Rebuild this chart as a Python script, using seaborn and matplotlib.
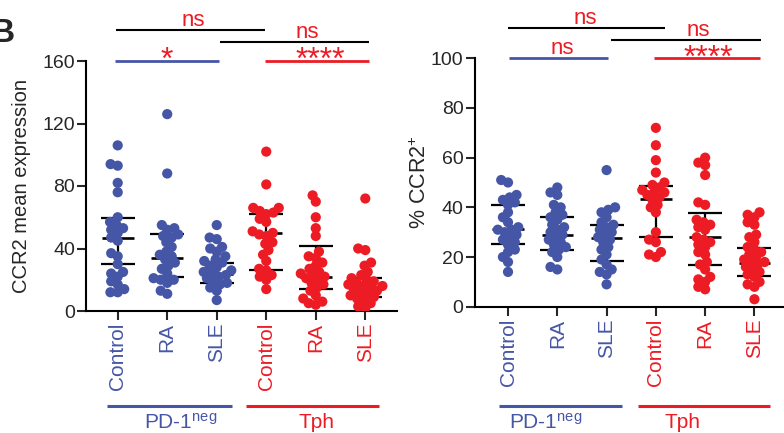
import numpy as np
import pandas as pd
import seaborn as sns
import matplotlib.pyplot as plt
from matplotlib.transforms import blended_transform_factory

BLUE = '#4656A6'
RED = '#ED1C24'

# categories
groups = ['PD-1neg Control', 'PD-1neg RA', 'PD-1neg SLE', 'Tph Control', 'Tph RA', 'Tph SLE']
tick_labels = ['Control', 'RA', 'SLE', 'Control', 'RA', 'SLE']
group_colors = [BLUE, BLUE, BLUE, RED, RED, RED]

# CCR2 mean expression (left panel)
mfi_pd1_ctrl = [106, 94, 93, 82, 76, 60, 57, 55, 53, 52, 50, 47, 45, 37, 35, 30, 25, 24, 22, 19, 17, 14, 12, 12]
mfi_pd1_ra = [126, 88, 55, 53, 52, 49, 48, 47, 44, 41, 38, 36, 35, 33, 31, 29, 27, 24, 21, 20, 20, 18, 13, 11]
mfi_pd1_sle = [55, 47, 46, 41, 40, 38, 35, 33, 32, 31, 29, 28, 26, 25, 24, 23, 22, 21, 19, 18, 17, 15, 13, 7]
mfi_tph_ctrl = [102, 81, 66, 66, 64, 63, 62, 59, 57, 51, 50, 49, 48, 44, 43, 39, 36, 32, 27, 26, 23, 22, 20, 14]
mfi_tph_ra = [74, 70, 60, 53, 48, 38, 35, 34, 31, 29, 27, 25, 24, 23, 22, 21, 20, 18, 17, 15, 13, 10, 8, 6, 5, 4]
mfi_tph_sle = [72, 40, 39, 31, 29, 25, 23, 21, 20, 19, 18, 17, 16, 16, 15, 14, 13, 12, 11, 10, 9, 8, 7, 5, 3, 2]
mfi_median = [47, 34, 24, 50, 22, 15.6]
mfi_q1 = [30, 21.5, 18, 26.5, 13.9, 9]
mfi_q3 = [59.5, 49, 31, 62, 41.5, 21]

# % CCR2+ (right panel)
pct_pd1_ctrl = [51, 50, 45, 44, 43, 42, 41, 38, 36, 34, 32, 31, 31, 30, 29, 28, 27, 26, 25, 23, 22, 20, 18, 14]
pct_pd1_ra = [48, 46, 45, 41, 40, 38, 37, 36, 35, 33, 32, 31, 30, 29, 28, 27, 26, 25, 24, 23, 22, 20, 16, 15]
pct_pd1_sle = [55, 40, 39, 38, 36, 34, 33, 32, 31, 30, 29, 28, 27, 26, 24, 23, 21, 19, 17, 15, 14, 13, 9]
pct_tph_ctrl = [72, 65, 59, 54, 50, 49, 48, 47, 46, 46, 45, 44, 43, 41, 40, 38, 30, 27, 26, 22, 21, 20]
pct_tph_ra = [60, 58, 57, 53, 42, 41, 35, 34, 33, 32, 31, 28, 27, 26, 25, 24, 22, 21, 18, 17, 15, 12, 11, 10, 8, 7]
pct_tph_sle = [38, 37, 36, 34, 33, 29, 28, 26, 24, 23, 22, 21, 20, 19, 18, 18, 17, 16, 15, 14, 13, 12, 10, 9, 8, 3]
pct_median = [31.3, 28.7, 27.6, 43.5, 27.9, 17.5]
pct_q1 = [25.1, 23, 18.5, 28, 16.8, 12.2]
pct_q3 = [41, 36, 33, 48.6, 37.8, 23.6]

# significance bars: x0, x1, y, colour, label, label x
sig_left = [(-0.03, 2.98, 180, 'black', 'ns', 1.52),
            (2.07, 5.08, 172, 'black', 'ns', 3.82),
            (-0.05, 2.05, 160, BLUE, '*', 1.0),
            (2.98, 5.08, 160, RED, '****', 4.09)]
sig_right = [(0.0, 3.19, 112.3, 'black', 'ns', 1.57),
             (2.08, 5.13, 107.4, 'black', 'ns', 3.87),
             (0.03, 2.03, 100, BLUE, 'ns', 1.11),
             (2.97, 5.12, 100, RED, '****', 4.07)]

sns.set_style('ticks')
plt.rcParams['font.family'] = ['Liberation Sans', 'DejaVu Sans']
plt.rcParams['mathtext.default'] = 'regular'

fig = plt.figure(figsize=(7.84, 4.33), dpi=100)
ax1 = fig.add_axes([86 / 784, 122 / 433, 311 / 784, 250 / 433])
ax2 = fig.add_axes([474.5 / 784, 126.3 / 433, 309.5 / 784, 248.4 / 433])


def draw_panel(ax, series, med, q1, q3):
    df = pd.concat([pd.DataFrame({'group': g, 'value': v}) for g, v in zip(groups, series)])
    sns.swarmplot(data=df, x='group', y='value', hue='group', order=groups, hue_order=groups,
                  palette=group_colors, size=5, linewidth=0, legend=False, ax=ax, zorder=3)
    x = np.arange(len(groups))
    med = np.array(med)
    # median + IQR sit behind the dots
    ax.errorbar(x, med, yerr=[med - np.array(q1), np.array(q3) - med], fmt='none',
                ecolor='black', elinewidth=1.6, capsize=12, capthick=1.6, zorder=1.5)
    ax.hlines(med, x - 0.32, x + 0.32, color='black', lw=1.9, zorder=1.5)


def style_panel(ax, ylim, yticks, xlim, sig, ylabel, label_x):
    ax.set_xlim(*xlim)
    ax.set_ylim(*ylim)
    ax.set_yticks(yticks)
    ax.set_xticks(range(len(groups)))
    ax.set_xticklabels(tick_labels, rotation=90, fontsize=15)
    for lab, c in zip(ax.get_xticklabels(), group_colors):
        lab.set_color(c)
    ax.tick_params(axis='y', labelsize=14, length=6.5, width=1.5, pad=1.5)
    ax.tick_params(axis='x', length=6.5, width=1.5, pad=2)
    for s in ['left', 'bottom']:
        ax.spines[s].set_linewidth(1.5)
        ax.spines[s].set_color('black')
    sns.despine(ax=ax)
    ax.set_xlabel('')
    ax.set_ylabel(ylabel, fontsize=14.5)
    ax.yaxis.set_label_coords(label_x, 0.5)
    for x0, x1, y, c, txt, tx in sig:
        lw = 1.5 if c == 'black' else 2.0
        ax.plot([x0, x1], [y, y], color=c, lw=lw, clip_on=False, solid_capstyle='butt')
        if txt == 'ns':
            ax.annotate(txt, (tx, y), xytext=(0, 3), textcoords='offset points',
                        ha='center', va='baseline', color=RED, fontsize=16, annotation_clip=False)
        else:
            ax.annotate(txt, (tx, y), xytext=(0, -6), textcoords='offset points',
                        ha='center', va='baseline', color=RED, fontsize=23, annotation_clip=False)


draw_panel(ax1, [mfi_pd1_ctrl, mfi_pd1_ra, mfi_pd1_sle, mfi_tph_ctrl, mfi_tph_ra, mfi_tph_sle],
           mfi_median, mfi_q1, mfi_q3)
draw_panel(ax2, [pct_pd1_ctrl, pct_pd1_ra, pct_pd1_sle, pct_tph_ctrl, pct_tph_ra, pct_tph_sle],
           pct_median, pct_q1, pct_q3)
style_panel(ax1, (0, 160), [0, 40, 80, 120, 160], (-0.64, 5.64), sig_left,
            'CCR2 mean expression', -0.177)
style_panel(ax2, (0, 100), [0, 20, 40, 60, 80, 100], (-0.68, 5.60), sig_right,
            '% CCR2$^{+}$', -0.14)
ax2.yaxis.label.set_fontsize(15.5)

# compute the swarm layout with small dots, then draw the dots larger so they overlap
fig.canvas.draw()
for ax in (ax1, ax2):
    for coll in ax.collections:
        if 'draw' in coll.__dict__:
            del coll.__dict__['draw']
            coll.set_sizes([54])
            coll.set_zorder(3)

# group bars under the tick labels
bars = [(ax1, -0.22, 2.30, BLUE, 'PD-1$^{neg}$', 1.28),
        (ax1, 2.59, 5.28, RED, 'Tph', 4.02),
        (ax2, -0.19, 2.32, BLUE, 'PD-1$^{neg}$', 0.76),
        (ax2, 2.63, 5.31, RED, 'Tph', 3.54)]
for ax, x0, x1, c, txt, tx in bars:
    tr = blended_transform_factory(ax.transData, fig.transFigure)
    ax.plot([x0, x1], [27 / 433, 27 / 433], color=c, lw=2.2, transform=tr, clip_on=False,
            solid_capstyle='butt')
    ax.text(tx, 4.5 / 433, txt, transform=tr, ha='center', va='baseline', color=c, fontsize=15)

fig.text(-9 / 784, 391 / 433, 'B', fontsize=24, fontweight='bold', va='baseline')

fig.savefig('out.png', dpi=100)
